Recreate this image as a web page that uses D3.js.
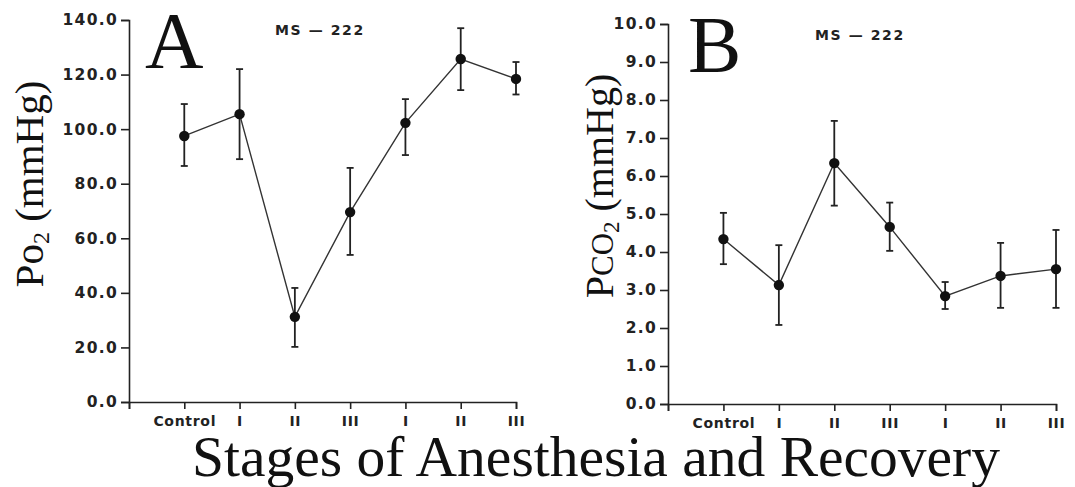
<!DOCTYPE html>
<html>
<head>
<meta charset="utf-8">
<script src="https://cdn.jsdelivr.net/npm/d3@7/dist/d3.min.js"></script>
<style>
  body { margin: 0; background: #fff; }
  .tick text { font-family: "DejaVu Sans", sans-serif; font-weight: bold; fill: #222; }
</style>
</head>
<body>
<div id="chart-area"></div>
<script>
// stages along the x axis (anesthesia I-III, then recovery I-III)
const stages = ["Control", "I", "II", "III", "I", "II", "III"];

// panel A: Po2 (mmHg)
const po2Mean = [97.5, 105.5, 31.2, 69.6, 102.3, 125.7, 118.4];
const po2Upper = [109.2, 122.0, 41.8, 85.8, 111.0, 137.0, 124.6];
const po2Lower = [86.5, 89.0, 20.2, 53.9, 90.5, 114.3, 112.7];
const po2Ticks = [0, 20, 40, 60, 80, 100, 120, 140];

// panel B: Pco2 (mmHg)
const pco2Mean = [4.34, 3.13, 6.34, 4.66, 2.84, 3.37, 3.55];
const pco2Upper = [5.03, 4.18, 7.45, 5.30, 3.21, 4.24, 4.58];
const pco2Lower = [3.68, 2.08, 5.22, 4.03, 2.50, 2.53, 2.53];
const pco2Ticks = [0, 1, 2, 3, 4, 5, 6, 7, 8, 9, 10];

const width = 1075;
const height = 487;

const svg = d3.select("#chart-area")
  .append("svg")
  .attr("width", width)
  .attr("height", height);

function drawPanel(opts) {
  const { mean, upper, lower, ticks, x0, x1, y0, y1, yMax } = opts;

  const xScale = d3.scaleLinear().domain([0, stages.length]).range([x0, x1]);
  const yScale = d3.scaleLinear().domain([0, yMax]).range([y0, y1]);

  const g = svg.append("g");

  // y axis
  const yAxis = g.append("g")
    .attr("transform", `translate(${x0},0)`)
    .call(d3.axisLeft(yScale).tickValues(ticks).tickFormat(d3.format(".1f")).tickSize(8).tickPadding(3));
  yAxis.selectAll("text").style("font-size", "15.5px").style("letter-spacing", "1.3px");

  // x axis
  const xAxis = g.append("g")
    .attr("transform", `translate(0,${y0})`)
    .call(d3.axisBottom(xScale)
      .tickValues(d3.range(0, stages.length + 1))
      .tickFormat(i => i === 0 ? "" : stages[i - 1])
      .tickSize(7).tickPadding(7));
  xAxis.selectAll("text").style("font-size", "14px").style("letter-spacing", "0.7px");

  g.selectAll(".domain, .tick line").attr("stroke", "#222").attr("stroke-width", 1.6);

  const pts = mean.map((m, i) => ({ x: i + 1, m, hi: upper[i], lo: lower[i] }));

  // connecting line
  g.append("path")
    .datum(pts)
    .attr("fill", "none")
    .attr("stroke", "#333")
    .attr("stroke-width", 1.4)
    .attr("d", d3.line().x(d => xScale(d.x)).y(d => yScale(d.m)));

  // error bars
  const err = g.append("g").attr("stroke", "#222").attr("stroke-width", 1.8);
  err.selectAll(".bar").data(pts).enter().append("line")
    .attr("x1", d => xScale(d.x)).attr("x2", d => xScale(d.x))
    .attr("y1", d => yScale(d.hi)).attr("y2", d => yScale(d.lo));
  err.selectAll(".capHi").data(pts).enter().append("line")
    .attr("x1", d => xScale(d.x) - 3.5).attr("x2", d => xScale(d.x) + 3.5)
    .attr("y1", d => yScale(d.hi)).attr("y2", d => yScale(d.hi));
  err.selectAll(".capLo").data(pts).enter().append("line")
    .attr("x1", d => xScale(d.x) - 3.5).attr("x2", d => xScale(d.x) + 3.5)
    .attr("y1", d => yScale(d.lo)).attr("y2", d => yScale(d.lo));

  // points
  g.selectAll("circle").data(pts).enter().append("circle")
    .attr("cx", d => xScale(d.x))
    .attr("cy", d => yScale(d.m))
    .attr("r", 5.2)
    .attr("fill", "#111");

  // panel letter and drug label
  g.append("text")
    .attr("x", opts.letterX).attr("y", opts.letterY)
    .style("font-family", "'Liberation Serif', serif")
    .style("font-size", opts.letterSize + "px")
    .attr("fill", "#111")
    .text(opts.letter);

  g.append("text")
    .attr("x", opts.titleX).attr("y", opts.titleY)
    .style("font-family", "'DejaVu Sans', sans-serif")
    .style("font-weight", "bold")
    .style("font-size", "14px")
    .style("letter-spacing", "1.6px")
    .attr("fill", "#222")
    .text("MS \u2014 222");

  // y axis title
  const yt = g.append("text")
    .attr("transform", `translate(${opts.labelX},${opts.labelY}) rotate(-90)`)
    .attr("text-anchor", "middle")
    .style("font-family", "'Liberation Serif', serif")
    .style("font-size", opts.labelSize + "px")
    .attr("fill", "#111");
  opts.label(yt);
}

drawPanel({
  mean: po2Mean, upper: po2Upper, lower: po2Lower, ticks: po2Ticks,
  x0: 129, x1: 516, y0: 402, y1: 20, yMax: 140,
  letter: "A", letterX: 145, letterY: 68, letterSize: 81,
  titleX: 275, titleY: 35,
  labelX: 43, labelY: 184, labelSize: 41,
  label: t => {
    t.append("tspan").text("Po");
    t.append("tspan").attr("dy", 6).style("font-size", "24px").text("2");
    t.append("tspan").attr("dy", -6).text(" (mmHg)");
  }
});

drawPanel({
  mean: pco2Mean, upper: pco2Upper, lower: pco2Lower, ticks: pco2Ticks,
  x0: 668, x1: 1056, y0: 404, y1: 24, yMax: 10,
  letter: "B", letterX: 688, letterY: 72, letterSize: 80,
  titleX: 815, titleY: 40,
  labelX: 613, labelY: 186, labelSize: 40,
  label: t => {
    t.append("tspan").text("P");
    t.append("tspan").style("font-size", "31px").text("CO");
    t.append("tspan").attr("dy", 6).style("font-size", "23px").text("2");
    t.append("tspan").attr("dy", -6).text(" (mmHg)");
  }
});

// shared x axis title
svg.append("text")
  .attr("x", 596).attr("y", 476)
  .attr("text-anchor", "middle")
  .style("font-family", "'Liberation Serif', serif")
  .style("font-size", "57.5px")
  .attr("fill", "#111")
  .text("Stages of Anesthesia and Recovery");
</script>
</body>
</html>
